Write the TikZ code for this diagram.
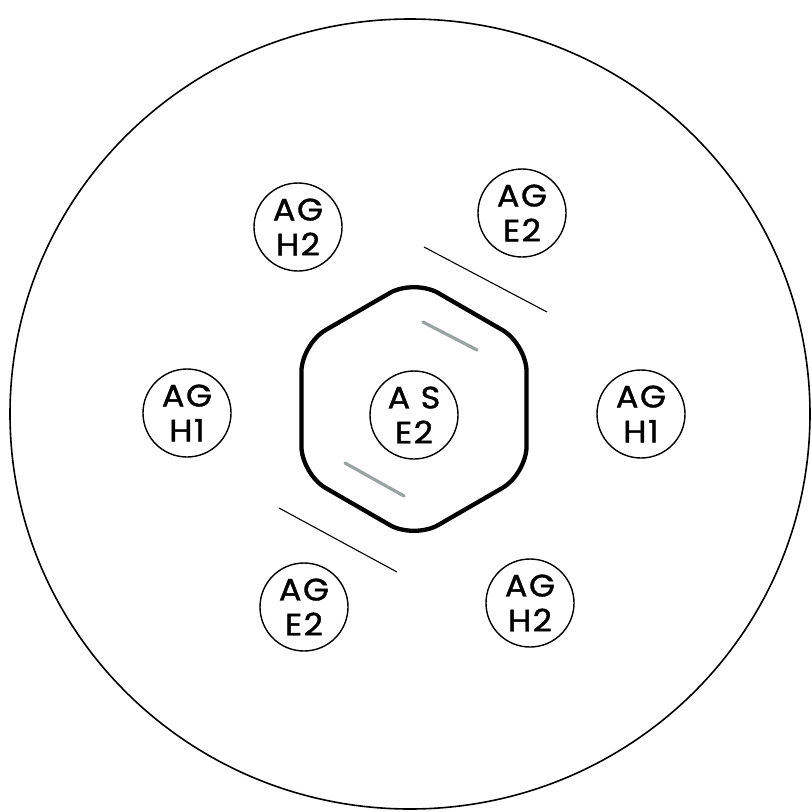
\documentclass[tikz,border=0pt]{standalone}
\usepackage{fontspec}
\newfontfamily\labelfont{Poppins}[FakeStretch=1.08, LetterSpace=5, FakeBold=1.2]
\usepackage{tikz}
\usetikzlibrary{shapes.geometric}
\definecolor{MarkGray}{HTML}{9AA2A2}

\begin{document}
\begin{tikzpicture}[x=1pt, y=-1pt,
  well_node/.style={circle, draw, line width=1.4pt, minimum size=88pt, inner sep=0pt,
    align=center, font=\labelfont\fontsize{31}{35}\selectfont},
  hex_node/.style={regular polygon, regular polygon sides=6, shape border rotate=30,
    minimum size=260pt, inner sep=0pt, draw, line width=4.3pt, rounded corners=28pt},
  sep_line/.style={line width=1.1pt},
  mark_line/.style={MarkGray, line width=3.2pt, line cap=round},
]
  \useasboundingbox (0,0) rectangle (811,812);
  % plate
  \draw[line width=1.6pt] (410,414) ellipse [x radius=400, y radius=395];
  % centre well and hexagon
  \node[hex_node] (hex) at (414,409) {};
  \node[well_node] (as) at (414,415) {A S\\E2};
  % outer wells
  \node[well_node] (agh2a) at (298,227) {AG\\H2};
  \node[well_node] (age2a) at (522,213) {AG\\E2};
  \node[well_node] (agh1a) at (187,413) {AG\\H1};
  \node[well_node] (agh1b) at (641,414) {AG\\H1};
  \node[well_node] (age2b) at (304,607) {AG\\E2};
  \node[well_node] (agh2b) at (530,603) {AG\\H2};
  % separating cuts
  \coordinate (cut_a1) at (424,247);
  \coordinate (cut_a2) at (547,312);
  \coordinate (cut_b1) at (279,508);
  \coordinate (cut_b2) at (397,572);
  \draw[sep_line] (cut_a1) -- (cut_a2);
  \draw[sep_line] (cut_b1) -- (cut_b2);
  % grey marks inside the hexagon
  \coordinate (mark_a1) at (423,322);
  \coordinate (mark_a2) at (477,350);
  \coordinate (mark_b1) at (345,463);
  \coordinate (mark_b2) at (404,496);
  \draw[mark_line] (mark_a1) -- (mark_a2);
  \draw[mark_line] (mark_b1) -- (mark_b2);
\end{tikzpicture}
\end{document}
